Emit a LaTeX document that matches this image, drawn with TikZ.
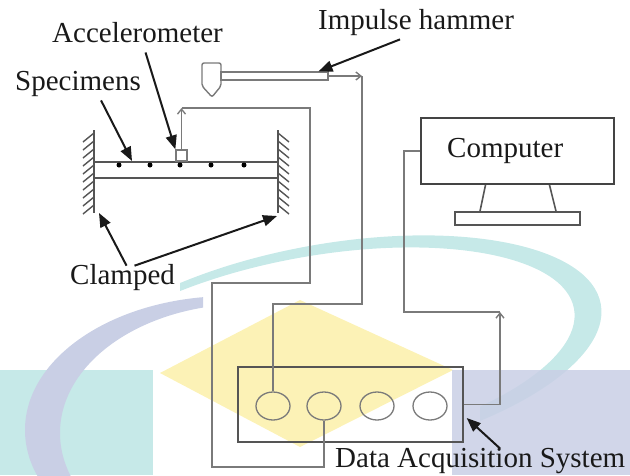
\documentclass[tikz,border=0pt]{standalone}
\usepackage{fontspec}
\setmainfont{Liberation Serif}
\usetikzlibrary{arrows.meta,shapes.geometric}

\definecolor{wmteal}{HTML}{C6E9E8}
\definecolor{wmlav}{HTML}{C9CFE5}
\definecolor{wmyellow}{HTML}{FCF2B6}
\definecolor{wire}{HTML}{7A7A7A}
\definecolor{frame}{HTML}{555555}

\begin{document}
\begin{tikzpicture}[x=1pt,y=-1pt,
    lbl/.style={font=\fontsize{29}{34}\selectfont, text=black!90, inner sep=0pt},
    pointer/.style={black!90, line width=2pt, -{Triangle[length=14pt,width=11pt]}},
    wireline/.style={wire, line width=1.4pt},
    wirearrow/.style={wireline, -{Straight Barb[length=5pt,width=8pt]}},
    hatch/.style={frame, line width=1.4pt},
    port/.style={draw=wire, line width=1.3pt, ellipse, minimum width=34pt, minimum height=28pt, inner sep=0pt},
    dot/.style={circle, fill=black, minimum size=5pt, inner sep=0pt}]

      \useasboundingbox (0,0) rectangle (630,475);

      % logo in the background
      \fill[wmyellow] (160,373) -- (300,300) -- (453,370) -- (300,447) -- cycle;
      \fill[wmteal] (0,370) rectangle (153,475);
      \begin{scope}
        \clip (180,200) -- (640,200) -- (640,475) -- (480,475) -- (480,335) -- (180,335) -- cycle;
        \fill[wmteal, even odd rule] (330,352) ellipse [x radius=275, y radius=108, rotate=10]
                                     (318,354) ellipse [x radius=260, y radius=98, rotate=10];
      \end{scope}
      \fill[wmlav, fill opacity=0.85] (452,370) rectangle (630,475);
      \begin{scope}
        \clip (0,270) rectangle (203,475);
        \fill[wmlav, even odd rule] (230,430) ellipse [x radius=205, y radius=134]
                                    (247,433) ellipse [x radius=187, y radius=129];
      \end{scope}

      % clamped beam
      \draw[frame, line width=1.5pt] (94,130) -- (94,213);
      \draw[frame, line width=1.5pt] (278,130) -- (278,213);
      \foreach \y in {133,141,...,205} {
        \draw[hatch] (94,\y) -- ++(-11,9);
        \draw[hatch] (278,\y) -- ++(11,9);
      }
      \draw[frame, line width=1.5pt] (94,162) -- (278,162);
      \draw[frame, line width=1.5pt] (94,178) -- (278,178);
      \foreach \x [count=\i] in {119,150,180,211,244}
        \node[dot] (s\i) at (\x,165) {};
      \node[draw=wire, fill=white, line width=1.3pt, minimum width=11pt, minimum height=11pt, inner sep=0pt] (acc) at (181.5,155.5) {};

      % hammer
      \draw[wire, line width=1.4pt, rounded corners=2pt] (202,86) -- (202,63) -- (221,63) -- (221,86) -- (212,97) -- cycle;
      \node[draw=wire, line width=1.3pt, minimum width=107pt, minimum height=8pt, inner sep=0pt] (handle) at (274.5,76) {};

      % computer
      \node[draw=frame!80!black, line width=2pt, minimum width=193pt, minimum height=66pt, inner sep=0pt] (monitor) at (517.5,151) {};
      \node[draw=frame, line width=1.6pt, minimum width=125pt, minimum height=13pt, inner sep=0pt] (base) at (517.5,218.5) {};
      \draw[frame, line width=1.6pt] ([xshift=-32pt]monitor.south) -- ([xshift=-37.5pt]base.north);
      \draw[frame, line width=1.6pt] ([xshift=32pt]monitor.south) -- ([xshift=38.5pt]base.north);

      % acquisition box
      \node[draw=frame, line width=1.4pt, minimum width=225pt, minimum height=75pt, inner sep=0pt] (daq) at (350.5,404.5) {};
      \foreach \x [count=\i] in {273,324,377,430}
        \node[port] (ch\i) at (\x,406) {};

      % cables
      \coordinate (hj) at (362,76);
      \coordinate (aj) at (181.5,108);
      \coordinate (cj) at (500,312);
      \draw[wirearrow] (handle.east) -- (hj);
      \draw[wireline] (hj) -- (362,304) -| (ch1.north);
      \draw[wirearrow] (acc.north) -- (aj);
      \draw[wireline] (aj) -- (310,108) -- (310,283) -- (212,283) -- (212,467) -| (ch2.south);
      \draw[wirearrow] (daq.east) -| (cj);
      \draw[wireline] (cj) -- (404,312) |- (monitor.west);

      % labels
      \node[lbl, anchor=base west] (acctxt) at (52,42) {Accelerometer};
      \node[lbl, anchor=base west] (spectxt) at (15,90) {Specimens};
      \node[lbl, anchor=base west] (hamtxt) at (318,29) {Impulse hammer};
      \node[lbl, anchor=base west] (comptxt) at (447,157) {Computer};
      \node[lbl, anchor=base west] (clamptxt) at (70,284) {Clamped};
      \node[lbl, anchor=base west] (daqtxt) at (335,467) {Data Acquisition System};

      \coordinate (spec) at (132,161);
      \coordinate (lclamp) at (99,213);
      \coordinate (rclamp) at (277,216);
      \draw[pointer] ([xshift=8pt,yshift=-10pt]acctxt.south) -- (acc.north west);
      \draw[pointer] ([xshift=23pt,yshift=-4pt]spectxt.south) -- (spec);
      \draw[pointer] ([xshift=-16pt,yshift=-4pt]hamtxt.south) -- ([xshift=44pt]handle.north);
      \draw[pointer] ([xshift=4pt,yshift=-2pt]clamptxt.north) -- (lclamp);
      \draw[pointer] ([xshift=12pt,yshift=-2pt]clamptxt.north) -- (rclamp);
      \draw[pointer] ([xshift=20pt,yshift=-1pt]daqtxt.north) -- ([xshift=3pt,yshift=-13.5pt]daq.east);
    \end{tikzpicture}
\end{document}
